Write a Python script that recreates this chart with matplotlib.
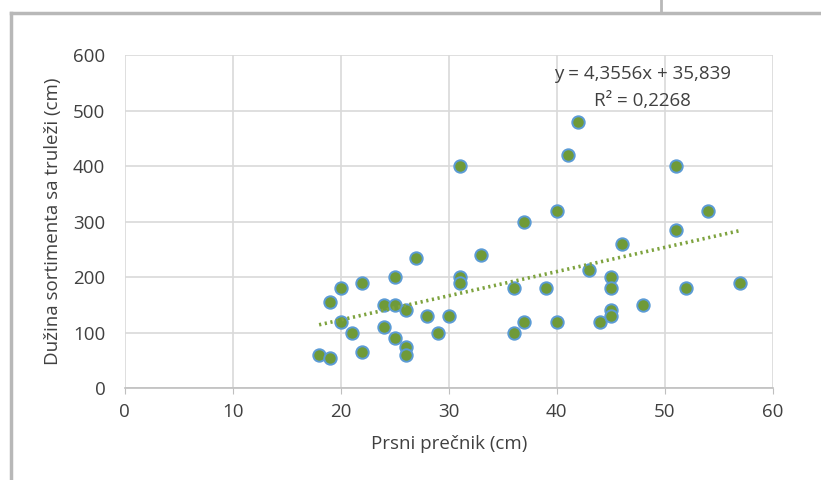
import matplotlib
matplotlib.use("Agg")
import matplotlib.pyplot as plt
from matplotlib.lines import Line2D
import numpy as np

# data
dbh = [18, 19, 19, 20, 20, 21, 22, 22, 24, 24, 25, 25, 25, 26, 26, 26, 27, 28, 29, 30,
       31, 31, 31, 33, 36, 36, 37, 37, 39, 40, 40, 41, 42, 43, 44, 45, 45, 45, 45, 46,
       48, 51, 51, 52, 54, 57]
length = [60, 55, 155, 180, 120, 100, 190, 65, 150, 110, 200, 150, 90, 140, 75, 60, 235, 130, 100, 130,
          400, 200, 190, 240, 180, 100, 300, 120, 180, 320, 120, 420, 480, 213, 120, 200, 180, 140, 130, 260,
          150, 400, 285, 180, 320, 190]
slope, intercept, r2 = 4.3556, 35.839, 0.2268
x_ticks = [0, 10, 20, 30, 40, 50, 60]
y_ticks = [0, 100, 200, 300, 400, 500, 600]

plt.rcParams["font.family"] = ["Open Sans", "DejaVu Sans"]
fig = plt.figure(figsize=(8.21, 4.8), dpi=100)
ax = fig.add_axes([0.1519, 0.1913, 0.7893, 0.6937])

grid_c = "#d9d9d9"
txt_c = "#404040"
fs = 13.5
ax.set_xlim(0, 60); ax.set_ylim(0, 600)
ax.set_xticks(x_ticks); ax.set_yticks(y_ticks)
ax.grid(True, color=grid_c, lw=1.2)
ax.set_axisbelow(True)
for s in ["top", "right", "left"]:
    ax.spines[s].set_visible(False)
ax.spines["bottom"].set_color("#bfbfbf"); ax.spines["bottom"].set_linewidth(1.2)
ax.tick_params(axis="y", length=0, labelsize=fs, labelcolor=txt_c, pad=14)
ax.tick_params(axis="x", length=4, color="#bfbfbf", labelsize=fs, labelcolor=txt_c, pad=7)

ax.scatter(dbh, length, s=80, c="#6f9a38", edgecolors="#5b9bd5", linewidths=1.4, zorder=3)
xs = np.array([min(dbh), max(dbh)])
ax.plot(xs, slope * xs + intercept, ls=(0, (0.6, 1.0)), lw=2.6, color="#7ea33f", zorder=4)

eq = "y = %sx + %s" % (str(slope).replace(".", ","), str(intercept).replace(".", ","))
ax.text(47.9, 566, eq, ha="center", va="center", fontsize=fs, color=txt_c)
ax.text(47.9, 517, "R² = %s" % str(r2).replace(".", ","), ha="center", va="center", fontsize=fs, color=txt_c)

ax.set_xlabel("Prsni prečnik (cm)", fontsize=fs, color=txt_c, labelpad=10)
ax.set_ylabel("Dužina sortimenta sa truleži (cm)", fontsize=fs, color=txt_c, labelpad=8)

# page frame around the chart
fc = "#b8b8b8"
fig.add_artist(Line2D([11 / 821, 1], [1 - 13 / 480, 1 - 13 / 480], color=fc, lw=2.5))
fig.add_artist(Line2D([11 / 821, 11 / 821], [0, 1 - 13 / 480], color=fc, lw=2.5))
fig.add_artist(Line2D([661 / 821, 661 / 821], [1 - 13 / 480, 1], color=fc, lw=2))

fig.savefig("out.png", dpi=100)
